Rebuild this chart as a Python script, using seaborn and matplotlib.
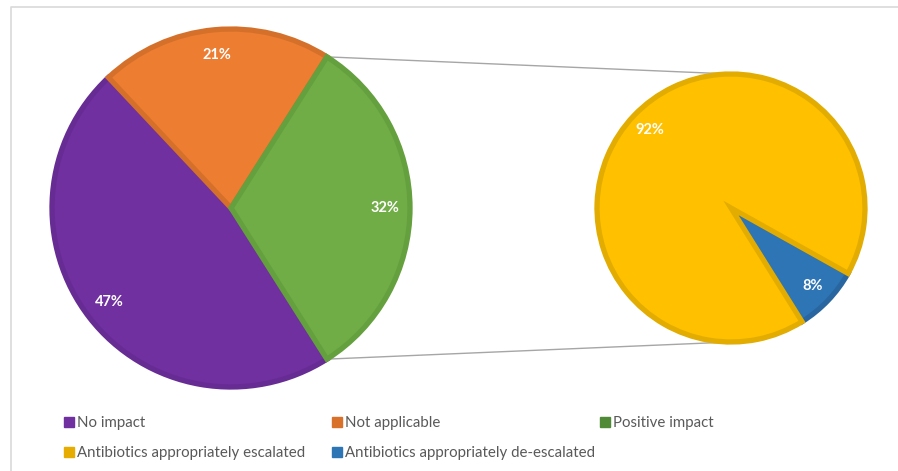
import numpy as np
import matplotlib
matplotlib.use("Agg")
import matplotlib.pyplot as plt
from matplotlib.lines import Line2D
import seaborn as sns

# main pie
main_labels = ['No impact', 'Not applicable', 'Positive impact']
main_values = [47, 21, 32]
main_colors = ['#7030A0', '#ED7D31', '#70AD47']
main_edges = ['#672B94', '#D5702B', '#64A03D']

# secondary pie (breakdown of "Positive impact")
sub_labels = ['Antibiotics appropriately escalated', 'Antibiotics appropriately de-escalated']
sub_values = [92, 8]
sub_colors = ['#FFC000', '#2E75B6']
sub_edges = ['#E2AC00', '#2966A0']

# legend swatches look a bit darker than the slices
legend_colors = ['#7030A0', '#D9712B', '#508A36', '#E6AD00', '#2E75B6']

sns.set_theme(style='white')
plt.rcParams['font.family'] = ['Lato', 'DejaVu Sans']

W, H = 898, 471
fig = plt.figure(figsize=(W / 100, H / 100), dpi=100)
ax = fig.add_axes([0, 0, 1, 1])

left_c = (231, H - 208)
right_c = (731, H - 208)
left_r = 179
right_r = 134

pct_style = dict(color='white', fontsize=10.5, fontweight='bold')

# the "Positive impact" slice is centred on the right side
start_left = -main_values[2] / sum(main_values) * 180
wedges1, _, pcts1 = ax.pie(main_values, colors=main_colors, center=left_c, radius=left_r,
                           startangle=start_left, counterclock=False,
                           autopct='%1.0f%%', pctdistance=0.86, textprops=pct_style,
                           wedgeprops=dict(linewidth=3.8, joinstyle='miter'))
for w, ec in zip(wedges1, main_edges):
    w.set_edgecolor(ec)

wedges2, _, pcts2 = ax.pie(sub_values, colors=sub_colors, center=right_c, radius=right_r,
                           startangle=302, counterclock=False,
                           autopct='%1.0f%%', pctdistance=0.84, textprops=pct_style,
                           wedgeprops=dict(linewidth=3.8, joinstyle='miter'))
for w, ec in zip(wedges2, sub_edges):
    w.set_edgecolor(ec)
wedges2[0].set_zorder(1.5)

# connector lines from the green slice to the secondary pie
g = wedges1[2]
for theta, ty in [(g.theta2, right_c[1] + right_r), (g.theta1, right_c[1] - right_r)]:
    x0 = g.center[0] + g.r * np.cos(np.deg2rad(theta))
    y0 = g.center[1] + g.r * np.sin(np.deg2rad(theta))
    ax.plot([x0, right_c[0]], [y0, ty], color='#A6A6A6', lw=1, zorder=0.5)

ax.set_xlim(0, W)
ax.set_ylim(0, H)
ax.set_aspect('equal')
ax.axis('off')

# chart area border (top and left visible)
ax.plot([11, 11, W], [0, H - 7, H - 7], color='#D9D9D9', lw=1.2, clip_on=False)

# legend, laid out in columns like the original
all_labels = main_labels + sub_labels
columns = [[0, 3], [1, 4], [2]]
col_x = [64, 332, 600]
for k, (idx, x) in enumerate(zip(columns, col_x)):
    handles = [Line2D([], [], marker='s', ls='', markersize=6.5, color=legend_colors[i]) for i in idx]
    leg = ax.legend(handles, [all_labels[i] for i in idx], loc='upper left',
                    bbox_to_anchor=(x, H - 416), bbox_transform=ax.transData,
                    frameon=False, fontsize=10.8, labelcolor='#595959',
                    handlelength=0.6, handletextpad=0.25, borderpad=0,
                    borderaxespad=0, labelspacing=1.1)
    if k < len(columns) - 1:
        ax.add_artist(leg)

fig.savefig('out.png', dpi=100, facecolor='white')
